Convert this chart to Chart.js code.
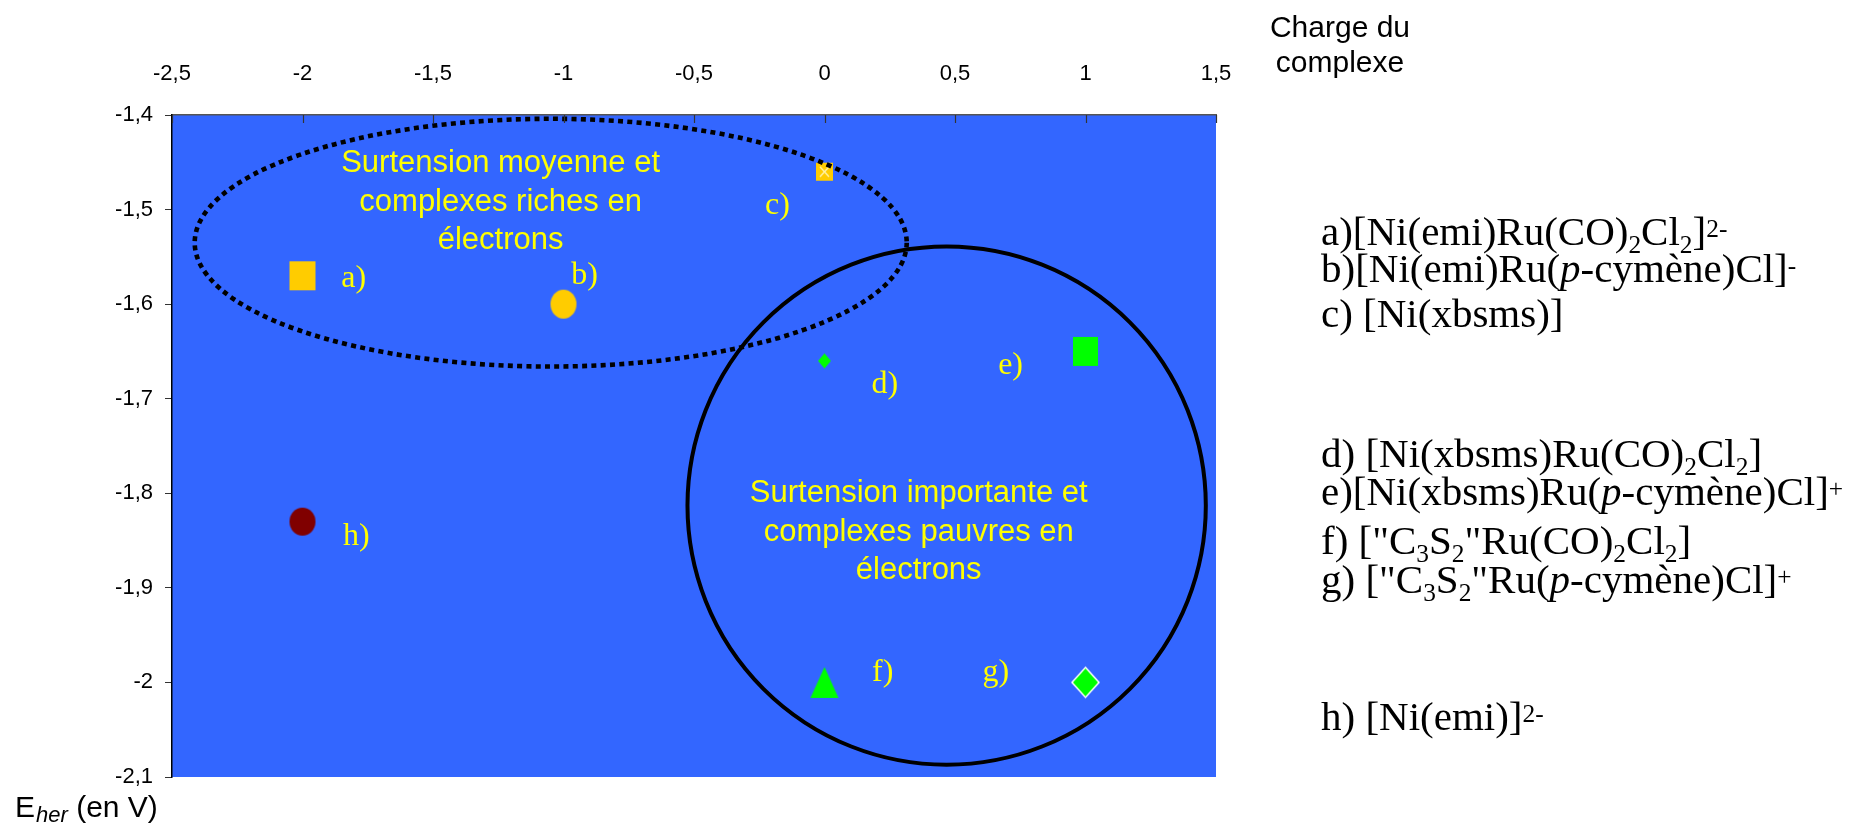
<!DOCTYPE html>
<html>
<head>
<meta charset="utf-8">
<script src="https://cdn.jsdelivr.net/npm/chart.js@4.4.1/dist/chart.umd.min.js"></script>
<style>
  html, body { margin: 0; padding: 0; background: #fff; }
  #wrap { width: 1860px; height: 824px; }
</style>
</head>
<body>
<div id="wrap"><canvas id="chart" width="1860" height="824"></canvas></div>
<script>
// Complexes: charge of the complex (x) vs E_her in V (y)
const pointNames = ['a)', 'b)', 'c)', 'd)', 'e)', 'f)', 'g)', 'h)'];
const charges    = [-2, -1, 0, 0, 1, 0, 1, -2];
const potentials = [-1.57, -1.60, -1.46, -1.66, -1.65, -2.00, -2.00, -1.83];

// where the letter of each complex is written (data units, baseline)
const nameX = [-1.804, -0.919, -0.180, 0.231, 0.713, 0.223, 0.656, -1.794];
const nameY = [-1.582, -1.579, -1.505, -1.694, -1.674, -1.999, -1.999, -1.855];

const xTicks = [-2.5, -2, -1.5, -1, -0.5, 0, 0.5, 1, 1.5];
const yTicks = [-1.4, -1.5, -1.6, -1.7, -1.8, -1.9, -2, -2.1];

// the two zones: centre x, centre y, radius x, radius y (data units)
const richZone = [-1.049, -1.535, 1.364, 0.131];
const poorZone = [0.468, -1.813, 0.993, 0.274];
const richText = ['Surtension moyenne et', 'complexes riches en', 'électrons'];
const poorText = ['Surtension importante et', 'complexes pauvres en', 'électrons'];
const richTextAt = [-1.241, -1.492];
const poorTextAt = [0.361, -1.841];

// formulas on the right: [text, mode]
const legendLines = [
  [['a)[Ni(emi)Ru(CO)'], ['2', 'sub'], ['Cl'], ['2', 'sub'], [']'], ['2-', 'sup']],
  [['b)[Ni(emi)Ru('], ['p', 'i'], ['-cymène)Cl]'], ['-', 'sup']],
  [['c) [Ni(xbsms)]']],
  [['d) [Ni(xbsms)Ru(CO)'], ['2', 'sub'], ['Cl'], ['2', 'sub'], [']']],
  [['e)[Ni(xbsms)Ru('], ['p', 'i'], ['-cymène)Cl]'], ['+', 'sup']],
  [['f) ["C'], ['3', 'sub'], ['S'], ['2', 'sub'], ['"Ru(CO)'], ['2', 'sub'], ['Cl'], ['2', 'sub'], [']']],
  [['g) ["C'], ['3', 'sub'], ['S'], ['2', 'sub'], ['"Ru('], ['p', 'i'], ['-cymène)Cl]'], ['+', 'sup']],
  [['h) [Ni(emi)]'], ['2-', 'sup']]
];
const legendBaselines = [245, 282, 327, 467, 505, 554, 593, 730];

const SANS = '"Liberation Sans", Arial, sans-serif';
const SERIF = '"Liberation Serif", "Times New Roman", serif';

// marker images (Excel-like markers, slightly taller than wide)
function makeMarker(kind, w, h, fill, edge) {
    const pad = 2;
    const c = document.createElement('canvas');
    c.width = w + pad * 2;
    c.height = h + pad * 2;
    const g = c.getContext('2d');
    g.translate(pad, pad);
    g.beginPath();
    if (kind === 'circle') {
        g.ellipse(w / 2, h / 2, w / 2, h / 2, 0, 0, Math.PI * 2);
    } else if (kind === 'diamond') {
        g.moveTo(w / 2, 0); g.lineTo(w, h / 2); g.lineTo(w / 2, h); g.lineTo(0, h / 2); g.closePath();
    } else if (kind === 'triangle') {
        g.moveTo(w / 2, 0); g.lineTo(w, h); g.lineTo(0, h); g.closePath();
    } else {
        g.rect(0, 0, w, h);
    }
    g.fillStyle = fill;
    g.fill();
    if (edge) {
        g.strokeStyle = edge;
        g.lineWidth = 1.5;
        g.stroke();
    }
    if (kind === 'squareX') {
        g.beginPath();
        g.moveTo(4, 4); g.lineTo(w - 4, h - 4);
        g.moveTo(w - 4, 4); g.lineTo(4, h - 4);
        g.strokeStyle = '#FFF3A8';
        g.lineWidth = 1.4;
        g.stroke();
    }
    return c;
}

const markers = [
    makeMarker('square', 26, 29, '#FFCC00'),
    makeMarker('circle', 26, 29, '#FFCC00'),
    makeMarker('squareX', 17, 18, '#FFCC00'),
    makeMarker('diamond', 13, 15, '#00FF00'),
    makeMarker('square', 25, 29, '#00FF00'),
    makeMarker('triangle', 28, 31, '#00FF00'),
    makeMarker('diamond', 27, 30, '#00FF00', '#FFFFFF'),
    makeMarker('circle', 26, 28, '#800000')
];

function drawRich(ctx, x, y, parts, size) {
    let cx = x;
    parts.forEach(([t, mode]) => {
        let fs = size, dy = 0, style = '';
        if (mode === 'sub') { fs = size * 0.62; dy = size * 0.2; }
        if (mode === 'sup') { fs = size * 0.62; dy = -size * 0.19; }
        if (mode === 'i') style = 'italic ';
        ctx.font = `${style}${fs}px ${SERIF}`;
        ctx.fillText(t, cx, y + dy);
        cx += ctx.measureText(t).width;
    });
}

function drawZone(ctx, x, y, zone, dash, width) {
    const [cx, cy, rx, ry] = zone;
    const px = x.getPixelForValue(cx);
    const py = y.getPixelForValue(cy);
    const prx = Math.abs(x.getPixelForValue(cx + rx) - px);
    const pry = Math.abs(y.getPixelForValue(cy + ry) - py);
    ctx.beginPath();
    ctx.ellipse(px, py, prx, pry, 0, 0, Math.PI * 2);
    ctx.setLineDash(dash);
    ctx.lineCap = 'butt';
    ctx.lineWidth = width;
    ctx.strokeStyle = '#000000';
    ctx.stroke();
    ctx.setLineDash([]);
}

const decor = {
    id: 'decor',
    beforeDraw(chart) {
        const { ctx, chartArea: a } = chart;
        ctx.save();
        ctx.fillStyle = '#FFFFFF';
        ctx.fillRect(0, 0, chart.width, chart.height);
        ctx.fillStyle = '#3366FF';
        ctx.fillRect(a.left, a.top, a.right - a.left, a.bottom - a.top);
        ctx.restore();
    },
    beforeDatasetsDraw(chart) {
        const { ctx, scales: { x, y } } = chart;
        ctx.save();
        ctx.fillStyle = '#FFFF00';
        ctx.font = `31px ${SANS}`;
        ctx.textAlign = 'center';
        ctx.textBaseline = 'middle';
        [[richText, richTextAt], [poorText, poorTextAt]].forEach(([lines, at]) => {
            const cx = x.getPixelForValue(at[0]);
            const cy = y.getPixelForValue(at[1]);
            lines.forEach((t, i) => ctx.fillText(t, cx, cy + (i - 1) * 38.5));
        });
        ctx.restore();
    },
    afterDatasetsDraw(chart) {
        const { ctx, chartArea: a, scales: { x, y } } = chart;
        ctx.save();
        drawZone(ctx, x, y, richZone, [5, 4.3], 4.6);
        drawZone(ctx, x, y, poorZone, [], 4);

        // tick marks of the top axis point into the plot
        ctx.strokeStyle = '#333333';
        ctx.lineWidth = 1.2;
        xTicks.forEach(v => {
            const px = Math.round(x.getPixelForValue(v)) + 0.5;
            ctx.beginPath();
            ctx.moveTo(px, a.top);
            ctx.lineTo(px, a.top + 8);
            ctx.stroke();
        });

        // letters next to the markers
        ctx.fillStyle = '#FFFF00';
        ctx.font = `32px ${SERIF}`;
        ctx.textAlign = 'center';
        ctx.textBaseline = 'alphabetic';
        pointNames.forEach((n, i) => {
            ctx.fillText(n, x.getPixelForValue(nameX[i]), y.getPixelForValue(nameY[i]));
        });
        ctx.restore();
    },
    afterDraw(chart) {
        const { ctx } = chart;
        ctx.save();
        ctx.fillStyle = '#000000';
        ctx.textBaseline = 'alphabetic';

        // x axis title
        ctx.textAlign = 'center';
        ctx.font = `30px ${SANS}`;
        ctx.fillText('Charge du', 1340, 37);
        ctx.fillText('complexe', 1340, 72);

        // y axis title: E_her (en V)
        ctx.textAlign = 'left';
        let cx = 15;
        ctx.font = `30px ${SANS}`;
        ctx.fillText('E', cx, 817);
        cx += ctx.measureText('E').width + 1;
        ctx.font = `italic 22px ${SANS}`;
        ctx.fillText('her', cx, 822);
        cx += ctx.measureText('her').width;
        ctx.font = `30px ${SANS}`;
        ctx.fillText(' (en V)', cx, 817);

        // formulas
        legendLines.forEach((parts, i) => drawRich(ctx, 1321, legendBaselines[i], parts, 41));
        ctx.restore();
    }
};

const tickLabel = v => String(v).replace('.', ',');

new Chart(document.getElementById('chart'), {
    type: 'scatter',
    data: {
        datasets: pointNames.map((n, i) => ({
            label: n,
            data: [{ x: charges[i], y: potentials[i] }],
            pointStyle: markers[i],
            pointRadius: 14,
            pointHoverRadius: 14
        }))
    },
    options: {
        responsive: false,
        animation: false,
        devicePixelRatio: 1,
        layout: { padding: { left: 0, top: 0, right: 644, bottom: 47 } },
        plugins: {
            legend: { display: false },
            tooltip: { enabled: false }
        },
        scales: {
            x: {
                type: 'linear',
                position: 'top',
                min: -2.5,
                max: 1.5,
                afterFit: s => { s.height = 115; },
                afterBuildTicks: s => { s.ticks = xTicks.map(v => ({ value: v })); },
                grid: { display: false, drawTicks: false },
                border: { display: true, color: '#555555', width: 1.5 },
                ticks: {
                    color: '#000000',
                    font: { family: SANS, size: 22 },
                    padding: 28,
                    maxRotation: 0,
                    autoSkip: false,
                    callback: tickLabel
                }
            },
            y: {
                type: 'linear',
                position: 'left',
                min: -2.1,
                max: -1.4,
                afterFit: s => { s.width = 172; },
                afterBuildTicks: s => { s.ticks = yTicks.map(v => ({ value: v })); },
                grid: { drawOnChartArea: false, drawTicks: true, tickLength: 7, color: '#333333', lineWidth: 1 },
                border: { display: true, color: '#000000', width: 1.5 },
                ticks: {
                    color: '#000000',
                    font: { family: SANS, size: 22 },
                    padding: 12,
                    autoSkip: false,
                    callback: tickLabel
                }
            }
        }
    },
    plugins: [decor]
});
</script>
</body>
</html>
